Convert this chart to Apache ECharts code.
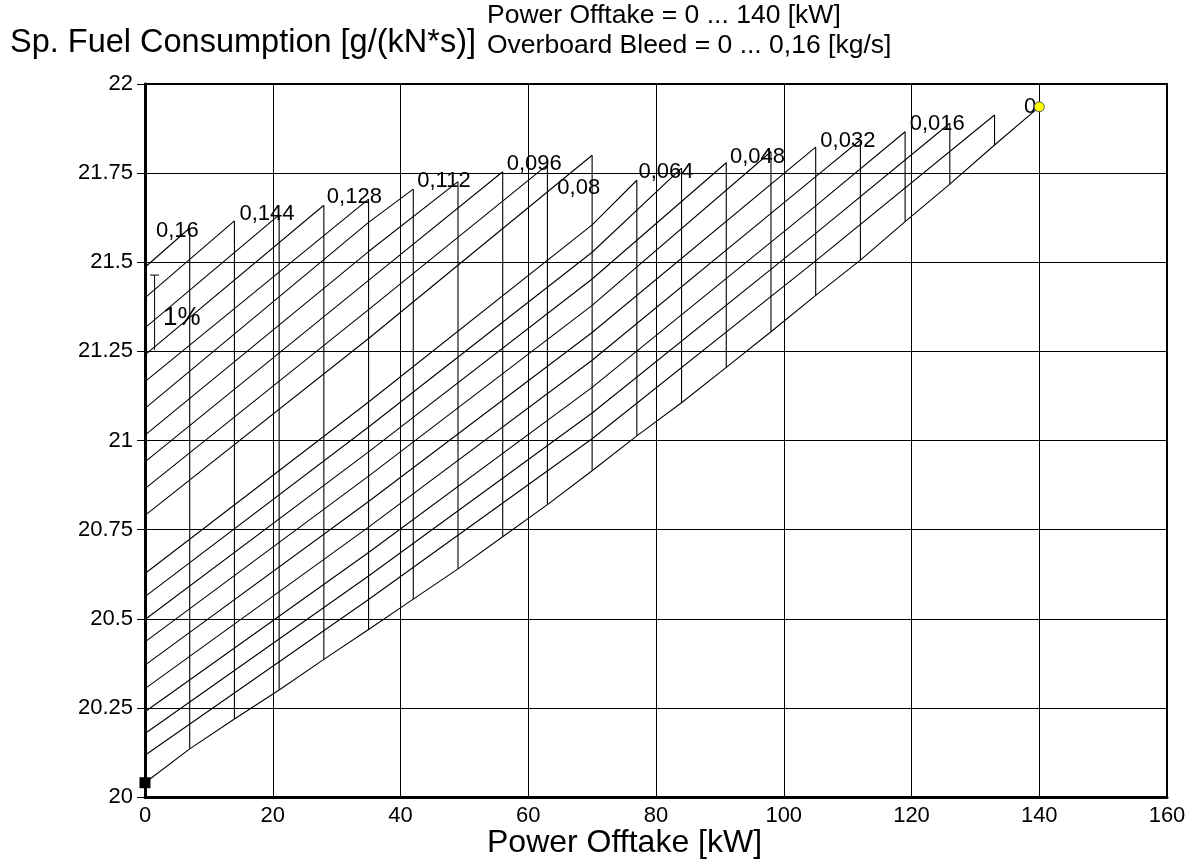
<!DOCTYPE html>
<html><head><meta charset="utf-8">
<script src="https://cdn.jsdelivr.net/npm/echarts@6/dist/echarts.min.js"></script>
<style>html,body{margin:0;padding:0;background:#fff}#c{width:1197px;height:866px}</style>
</head><body><div id="c"></div>
<script>
// Power offtake steps [kW]
const powerOfftake = [0,7,14,21,28,35,42,49,56,63,70,77,84,91,98,105,112,119,126,133,140];
// Overboard bleed steps [kg/s]
const bleedValues = [0,0.008,0.016,0.024,0.032,0.040,0.048,0.056,0.064,0.072,0.080,0.088,0.096,0.104,0.112,0.120,0.128,0.136,0.144,0.152,0.160];
// SFC along the zero-bleed line, one value per power offtake step
const sfcNoBleed = [20.04,20.135,20.219,20.30,20.386,20.47,20.555,20.64,20.73,20.82,20.915,21.013,21.106,21.205,21.305,21.407,21.506,21.614,21.719,21.829,21.936];
// SFC of each bleed line at power offtake 0, 35, 70, 105 kW (null where the line has ended)
const sfcAtP0   = [20.04,20.117,20.178,20.239,20.304,20.37,20.435,20.498,20.562,20.627,20.79,20.865,20.94,21.015,21.09,21.165,21.24,21.316,21.40,21.486,21.57];
const sfcAtP35  = [20.47,20.554,20.62,20.686,20.757,20.829,20.90,20.968,21.038,21.108,21.286,21.367,21.449,21.53,21.612,null,null,null,null,null,null];
const sfcAtP70  = [20.915,21.005,21.077,21.149,21.225,21.303,21.379,21.453,21.528,21.605,null,null,null,null,null,null,null,null,null,null,null];
const sfcAtP105 = [21.407,21.504,21.581,21.658,21.74,null,null,null,null,null,null,null,null,null,null,null,null,null,null,null,null];
// SFC at the last power offtake step of each bleed line
const sfcAtLineEnd = [21.936,21.913,21.89,21.866,21.843,21.823,21.81,21.779,21.764,21.73,21.80,21.773,21.754,21.726,21.705,21.677,21.66,21.633,21.616,21.596,21.57];
// Bleed line labels (every second line)
const bleedLabels = ['0','','0,016','','0,032','','0,048','','0,064','','0,08','','0,096','','0,112','','0,128','','0,144','','0,16'];
// 1% reference bar [SFC from, SFC to]
const onePercentBar = [21.254, 21.464];
// axis settings
const xMin = 0, xMax = 160, xStep = 20;
const yMin = 20, yMax = 22, yStep = 0.25;

const FONT = "'Liberation Sans', Arial, sans-serif";
const nSteps = powerOfftake.length - 1;
const series = [];
const lineStyle = {color:'#000', width:1.1};

// constant-bleed lines
for (let j = 0; j < bleedValues.length; j++) {
  const endIdx = nSteps - j;
  const pEnd = powerOfftake[endIdx];
  let pts = [];
  if (j === 0) {
    pts = powerOfftake.map((p, i) => [p, sfcNoBleed[i]]);
  } else {
    pts.push([0, sfcAtP0[j]]);
    [[35, sfcAtP35], [70, sfcAtP70], [105, sfcAtP105]].forEach(([p, arr]) => {
      if (p < pEnd && arr[j] != null) pts.push([p, arr[j]]);
    });
    if (pEnd > 0) pts.push([pEnd, sfcAtLineEnd[j]]);
  }
  if (pts.length > 1) series.push({type:'line', data:pts, symbol:'none', lineStyle, silent:true, z:3});
}
// constant-power-offtake lines (verticals)
for (let i = 1; i < nSteps; i++) {
  series.push({type:'line', data:[[powerOfftake[i], sfcNoBleed[i]], [powerOfftake[i], sfcAtLineEnd[nSteps - i]]],
    symbol:'none', lineStyle, silent:true, z:3});
}
// label placement per line (styling)
const labelPlace = {
  0:{align:'right', offset:[-3,0]},
  2:{align:'right', offset:[15,1]},
  4:{align:'right', offset:[15,1]},
  6:{align:'right', offset:[14,5]},
  8:{align:'right', offset:[12,4]},
  10:{align:'right', offset:[8,33]},
  12:{align:'left', offset:[4,-8]},
  14:{align:'left', offset:[4,-8]},
  16:{align:'left', offset:[3,-8]},
  18:{align:'left', offset:[5,-7]},
  20:{align:'left', offset:[11,-6]}
};
const labelData = [];
bleedLabels.forEach((t, j) => {
  if (!t) return;
  const pl = labelPlace[j];
  labelData.push({value:[powerOfftake[nSteps - j], sfcAtLineEnd[j]],
    label:{show:true, formatter:t, position:'inside', align:pl.align, verticalAlign:'middle', offset:pl.offset,
      color:'#000', opacity:1, textBorderWidth:0, textBorderColor:'transparent', fontSize:22, fontFamily:FONT}});
});
series.push({type:'scatter', data:labelData, symbol:'circle', symbolSize:1, silent:true, z:6,
  itemStyle:{color:'rgba(0,0,0,0)', opacity:1}});
// 1% bar
series.push({type:'line', data:[[1.5, onePercentBar[0]],[1.5, onePercentBar[1]]], symbol:'none', lineStyle:{color:'#000', width:1}, silent:true, z:4});
series.push({type:'scatter', data:[[1.5, onePercentBar[1]]], symbol:'rect', symbolSize:[9,1], itemStyle:{color:'#000', opacity:1}, silent:true, z:4});
// start / design point markers
series.push({type:'scatter', data:[[powerOfftake[0], sfcNoBleed[0]]], symbol:'rect', symbolSize:11, itemStyle:{color:'#000', opacity:1}, silent:true, z:7});
series.push({type:'scatter', data:[[powerOfftake[nSteps], sfcNoBleed[nSteps]]], symbol:'circle', symbolSize:10, itemStyle:{color:'#ffff00', borderColor:'#555', borderWidth:1, opacity:1}, silent:true, z:7});

const chart = echarts.init(document.getElementById('c'), null, {renderer:'canvas'});
chart.setOption({
  animation:false,
  backgroundColor:'#fff',
  grid:{left:145, right:30, top:84, bottom:69, show:true, borderColor:'#000', borderWidth:2, backgroundColor:'transparent'},
  xAxis:{type:'value', min:xMin, max:xMax, interval:xStep,
    axisLine:{show:true, onZero:false, lineStyle:{color:'#000', width:3}},
    axisTick:{show:false},
    axisLabel:{color:'#000', fontSize:22, fontFamily:FONT, margin:8},
    splitLine:{show:true, lineStyle:{color:'#000', width:1}}},
  yAxis:{type:'value', min:yMin, max:yMax, interval:yStep,
    axisLine:{show:true, onZero:false, lineStyle:{color:'#000', width:3}},
    axisTick:{show:true, length:8, lineStyle:{color:'#000', width:1}},
    axisLabel:{color:'#000', fontSize:22, fontFamily:FONT, margin:12},
    splitLine:{show:true, lineStyle:{color:'#000', width:1}}},
  graphic:[
    {type:'text', left:10, top:27, style:{text:'Sp. Fuel Consumption [g/(kN*s)]', font:'32.5px '+FONT, fill:'#000'}},
    {type:'text', x:487, y:16, style:{text:'Power Offtake = 0 ... 140 [kW]', font:'26.5px '+FONT, fill:'#000', verticalAlign:'middle'}},
    {type:'text', x:487, y:46, style:{text:'Overboard Bleed = 0 ... 0,16 [kg/s]', font:'26.5px '+FONT, fill:'#000', verticalAlign:'middle'}},
    {type:'text', left:487, top:827, style:{text:'Power Offtake [kW]', font:'32px '+FONT, fill:'#000'}},
    {type:'text', x:163, y:318, style:{text:'1%', font:'26px '+FONT, fill:'#000', verticalAlign:'middle'}}
  ],
  series
});
</script></body></html>
